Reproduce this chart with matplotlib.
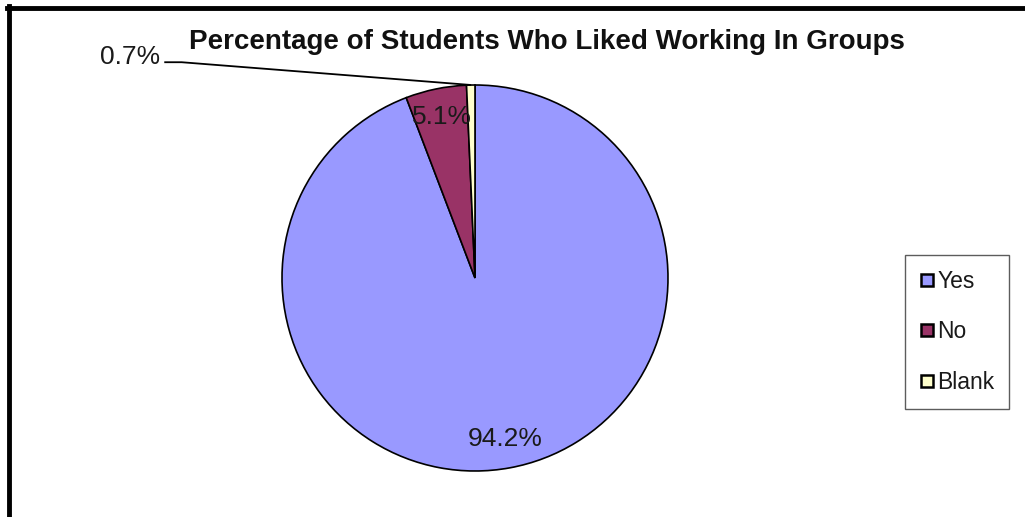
import matplotlib.pyplot as plt
from matplotlib.lines import Line2D

plt.rcParams['font.family'] = ['Liberation Sans', 'DejaVu Sans']

# Survey answers
respostas = ['Yes', 'No', 'Blank']
porcentagens = [94.2, 5.1, 0.7]
cores = ['#9999FF', '#993366', '#FFFFCC']
titulo = 'Percentage of Students Who Liked Working In Groups'

fig = plt.figure(figsize=(10.25, 5.17), dpi=100)

# Pie area (square, in pixels of the 1025x517 canvas)
cx, cy, r = 475, 278, 193
ax = fig.add_axes([(cx - r) / 1025, (517 - cy - r) / 517, 2 * r / 1025, 2 * r / 517])

fatias, textos, pcts = ax.pie(
    porcentagens, colors=cores, startangle=90, counterclock=False,
    autopct='%1.1f%%', pctdistance=0.85,
    wedgeprops={'edgecolor': 'black', 'linewidth': 1.2},
    textprops={'fontsize': 19, 'color': '#1a1a1a'})
ax.set_xlim(-1, 1)
ax.set_ylim(-1, 1)

# The thin "Blank" slice gets its label outside with a leader line
pcts[2].set_position((-1.63, 1.145))
pcts[2].set_ha('right')
pcts[2].set_va('center')
ax.plot([-1.61, -1.52, -0.02], [1.118, 1.118, 1.0], color='black', lw=1.3,
        clip_on=False, solid_capstyle='butt')

fig.text(0.534, 0.919, titulo, ha='center', va='center',
         fontsize=20, fontweight='bold', color='#111111')

# Legend with small square markers
alcas = [Line2D([], [], marker='s', linestyle='none', markersize=9,
                markerfacecolor=c, markeredgecolor='black', markeredgewidth=1.8)
         for c in cores]
leg = fig.legend(alcas, respostas, loc='upper left',
                 bbox_to_anchor=(905 / 1025, 1 - 255 / 517),
                 fontsize=16.5, frameon=True, fancybox=False, shadow=False,
                 handlelength=0.6, handletextpad=0.15, labelspacing=1.2,
                 borderpad=0.65, borderaxespad=0)
leg.get_frame().set_edgecolor('#333333')
leg.get_frame().set_linewidth(1.0)
for t in leg.get_texts():
    t.set_color('#1a1a1a')

# Thick frame on top and left
fig.add_artist(Line2D([7 / 1025, 1], [1 - 8 / 517, 1 - 8 / 517],
                      color='black', lw=3.5, transform=fig.transFigure))
fig.add_artist(Line2D([9 / 1025, 9 / 1025], [0, 1 - 6 / 517],
                      color='black', lw=3.5, transform=fig.transFigure))

fig.savefig('out.png', dpi=100)
